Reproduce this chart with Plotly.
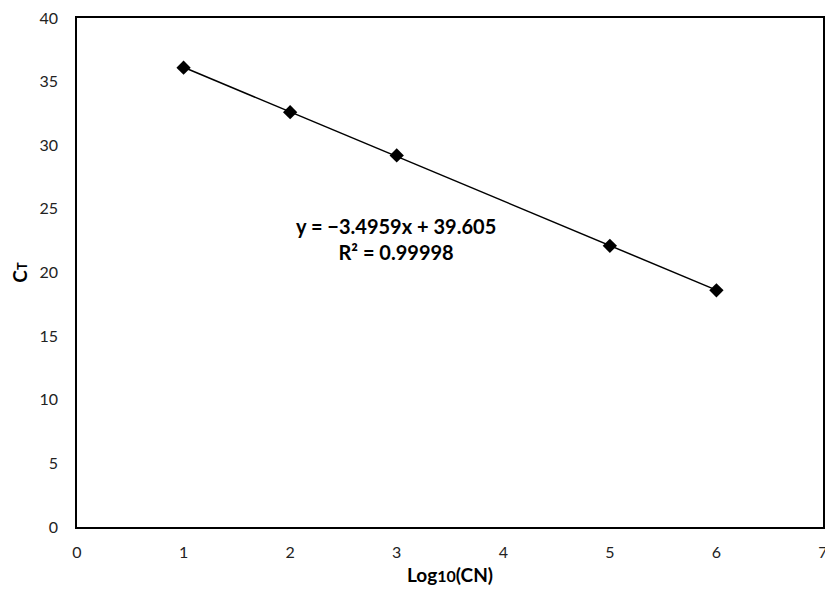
import numpy as np
import plotly.graph_objects as go

# standard curve data
log_cn = [1, 2, 3, 5, 6]
ct = [36.1, 32.6, 29.2, 22.1, 18.6]

# least squares trendline through the points
slope, intercept = np.polyfit(log_cn, ct, 1)
fit_x = [min(log_cn), max(log_cn)]
fit_y = [slope * v + intercept for v in fit_x]

fig = go.Figure()

fig.add_trace(go.Scatter(
    x=fit_x, y=fit_y, mode='lines',
    line=dict(color='black', width=1.5),
    showlegend=False, hoverinfo='skip'
))

fig.add_trace(go.Scatter(
    x=log_cn, y=ct, mode='markers',
    marker=dict(symbol='diamond', size=11, color='black'),
    showlegend=False
))

fig.add_annotation(
    x=2.99, y=22.6, xref='x', yref='y', showarrow=False,
    text='<b>y = −3.4959x + 39.605</b><br><b>R² = 0.99998</b>',
    font=dict(family='Lato', size=20, color='black'),
    align='center'
)

axis_style = dict(
    showline=True, linecolor='black', linewidth=1.5, mirror=True,
    showgrid=False, zeroline=False, ticks='', automargin=False,
    ticklabeloverflow='allow',
    tickfont=dict(family='Lato', size=16, color='#222222'),
)

fig.update_xaxes(
    range=[0, 7], dtick=1, ticklabelstandoff=10, **axis_style,
    title=dict(text='<b>Log<span style="font-size:16px">10</span>(CN)</b>',
               font=dict(family='Lato', size=19, color='black'), standoff=9)
)
fig.update_yaxes(
    range=[0, 40], dtick=5, ticklabelstandoff=14, **axis_style,
    title=dict(text='<b>C<span style="font-size:13px">T</span></b>',
               font=dict(family='Lato', size=19, color='black'), standoff=7)
)

fig.update_layout(
    width=825, height=590,
    margin=dict(l=77, r=2, t=18, b=63),
    plot_bgcolor='white', paper_bgcolor='white'
)

# drop the default page margin so the figure sits at the window corner
fig.write_html('out.html', config={'displayModeBar': False},
               post_script="document.body.style.margin='0';document.body.style.overflow='hidden';")
